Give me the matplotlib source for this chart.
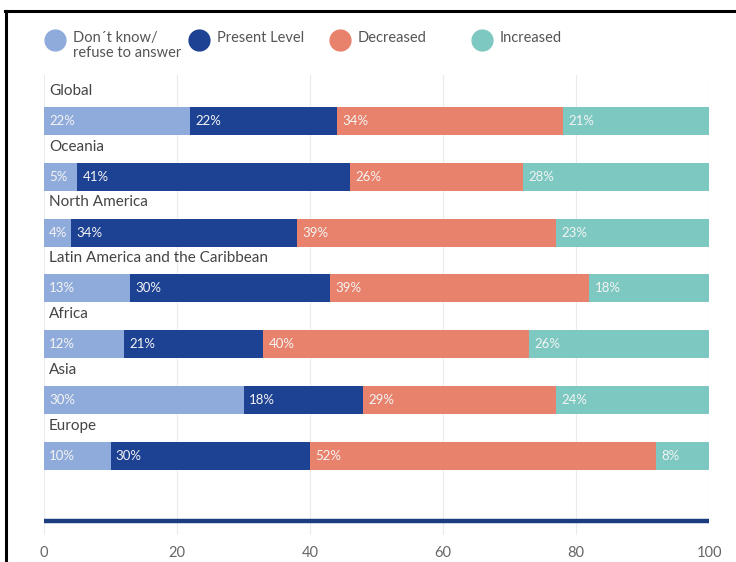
import matplotlib.pyplot as plt
from matplotlib.lines import Line2D

# data
regions = ['Global', 'Oceania', 'North America', 'Latin America and the Caribbean',
           'Africa', 'Asia', 'Europe']
dont_know = [22, 5, 4, 13, 12, 30, 10]
present = [22, 41, 34, 30, 21, 18, 30]
decreased = [34, 26, 39, 39, 40, 29, 52]
increased = [21, 28, 23, 18, 26, 24, 8]

series_names = ['Don\u00b4t know/\nrefuse to answer', 'Present Level', 'Decreased', 'Increased']
colors = ['#8fabdb', '#1d4193', '#e8826c', '#7dc8c1']
xticks = [0, 20, 40, 60, 80, 100]

plt.rcParams['font.family'] = ['Lato', 'DejaVu Sans']

W, H = 736, 562
fig = plt.figure(figsize=(W / 100, H / 100), dpi=100)
ax = fig.add_axes([44 / W, 1 - 535 / H, 665 / W, (535 - 75) / H])

series = [dont_know, present, decreased, increased]
ypos = list(range(len(regions)))
bar_h = 0.5

for i, region in enumerate(regions):
    left = 0
    for k, vals in enumerate(series):
        v = vals[i]
        # last segment fills the remainder of the 100% bar
        w = 100 - left if k == len(series) - 1 else v
        ax.barh(ypos[i], w, left=left, height=bar_h, color=colors[k], zorder=2)
        ax.text(left + 0.8, ypos[i], '%d%%' % v, color='#f4f4f4',
                fontsize=9.5, va='center', ha='left', zorder=3)
        left += w
    ax.text(0.75, ypos[i] - 0.54, region, color='#444444', fontsize=11,
            va='center', ha='left')

ax.set_xlim(0, 100)
ax.set_ylim(7.419, -0.824)
ax.set_xticks(xticks)
ax.set_xticklabels([str(t) for t in xticks], color='#666666', fontsize=10.5)
ax.tick_params(axis='x', length=0, pad=8)
ax.set_yticks([])
ax.grid(axis='x', color='#ebebeb', linewidth=0.8, zorder=0)
for s in ax.spines.values():
    s.set_visible(False)

# dark baseline under the bars
ax.axhline(7.17, color='#1b3c7e', linewidth=3.2, zorder=2)

# legend
leg_x = [55, 199, 340, 482]
for k, name in enumerate(series_names):
    fig.add_artist(Line2D([leg_x[k] / W], [1 - 40 / H], marker='o', markersize=15,
                          color=colors[k], linestyle='none', transform=fig.transFigure))
    fig.text((leg_x[k] + 18) / W, 1 - 31 / H, name, color='#555555', fontsize=10.5,
             va='top', ha='left', linespacing=1.1)

# black frame (top and left)
fig.add_artist(Line2D([5 / W, 1], [1 - 11 / H, 1 - 11 / H], color='black',
                      linewidth=2.2, transform=fig.transFigure))
fig.add_artist(Line2D([6 / W, 6 / W], [0, 1 - 11 / H], color='black',
                      linewidth=2.2, transform=fig.transFigure))

fig.savefig('out.png', dpi=100, facecolor='white')
